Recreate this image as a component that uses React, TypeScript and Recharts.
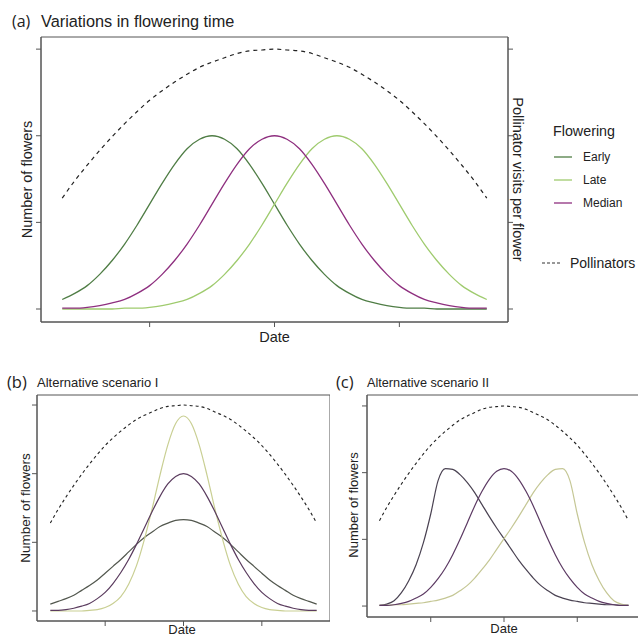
import React from 'react';
import { LineChart, Line, XAxis, YAxis, ReferenceArea, Legend } from 'recharts';

const FONT = '"Liberation Sans", Arial, sans-serif';
const INK = '#222';
const FRAME = '#555';

// date index along the season
const dates = [0,1,2,3,4,5,6,7,8,9,10,11,12,13,14,15,16,17,18,19,20,21,22,23,24,25,26,27,28,29,30,31,32,33,34];
const dateTicks = [7, 17, 27];
const valueTicks = [0, 1, 2, 3];

// pollinator visits per flower (same curve in every panel)
const pollinators = [1.28,1.48,1.66,1.83,1.99,2.14,2.28,2.41,2.52,2.62,2.71,2.79,2.85,2.90,2.95,2.98,2.99,3.00,2.99,2.98,2.95,2.90,2.85,2.79,2.71,2.62,2.52,2.41,2.28,2.14,1.99,1.83,1.66,1.48,1.28];

// (a) variations in flowering time
const aEarly = [0.11,0.18,0.27,0.40,0.56,0.75,0.97,1.21,1.45,1.67,1.85,1.96,2.00,1.96,1.85,1.67,1.45,1.21,0.97,0.75,0.56,0.40,0.27,0.18,0.11,0.07,0.04,0.02,0.01,0.01,0,0,0,0,0];
const aLate = [0,0,0,0,0,0.01,0.01,0.02,0.04,0.07,0.11,0.18,0.27,0.40,0.56,0.75,0.97,1.21,1.45,1.67,1.85,1.96,2.00,1.96,1.85,1.67,1.45,1.21,0.97,0.75,0.56,0.40,0.27,0.18,0.11];
const aMedian = [0.01,0.01,0.02,0.04,0.07,0.11,0.18,0.27,0.40,0.56,0.75,0.97,1.21,1.45,1.67,1.85,1.96,2.00,1.96,1.85,1.67,1.45,1.21,0.97,0.75,0.56,0.40,0.27,0.18,0.11,0.07,0.04,0.02,0.01,0.01];

// (b) alternative scenario I
const bEarly = [0.10,0.14,0.18,0.23,0.30,0.37,0.45,0.55,0.65,0.75,0.86,0.97,1.07,1.15,1.23,1.28,1.32,1.33,1.32,1.28,1.23,1.15,1.07,0.97,0.86,0.75,0.65,0.55,0.45,0.37,0.30,0.23,0.18,0.14,0.10];
const bLate = [0,0,0,0,0,0.01,0.02,0.05,0.11,0.21,0.39,0.66,1.04,1.49,1.98,2.42,2.73,2.84,2.73,2.42,1.98,1.49,1.04,0.66,0.39,0.21,0.11,0.05,0.02,0.01,0,0,0,0,0];
const bMedian = [0.01,0.01,0.02,0.04,0.07,0.11,0.18,0.27,0.40,0.56,0.75,0.97,1.21,1.45,1.67,1.85,1.96,2.00,1.96,1.85,1.67,1.45,1.21,0.97,0.75,0.56,0.40,0.27,0.18,0.11,0.07,0.04,0.02,0.01,0.01];

// (c) alternative scenario II
const cEarly = [0.01,0.03,0.08,0.20,0.38,0.62,0.95,1.38,1.88,2.06,2.05,1.97,1.85,1.70,1.52,1.34,1.17,1.01,0.85,0.69,0.55,0.42,0.31,0.23,0.16,0.12,0.09,0.07,0.05,0.04,0.03,0.02,0.02,0.01,0.01];
const cLate = [0.01,0.01,0.02,0.02,0.03,0.04,0.05,0.07,0.09,0.12,0.16,0.23,0.31,0.42,0.55,0.69,0.85,1.01,1.17,1.34,1.52,1.70,1.85,1.97,2.05,2.06,1.88,1.38,0.95,0.62,0.38,0.20,0.08,0.03,0.01];
const cMedian = [0.01,0.01,0.02,0.04,0.07,0.12,0.18,0.28,0.41,0.57,0.77,1.00,1.25,1.50,1.72,1.90,2.02,2.06,2.02,1.90,1.72,1.50,1.25,1.00,0.77,0.57,0.41,0.28,0.18,0.12,0.07,0.04,0.02,0.01,0.01];

const build = (early: number[], late: number[], median: number[]) =>
  dates.map((d, i) => ({ d, early: early[i], late: late[i], median: median[i], poll: pollinators[i] }));

const dataA = build(aEarly, aLate, aMedian);
const dataB = build(bEarly, bLate, bMedian);
const dataC = build(cEarly, cLate, cMedian);

const X_DOMAIN: [number, number] = [-1.7, 35.7];

const axisText = (text: string, x: number, y: number, size: number, rotate = 0) => () => (
  <text
    x={x}
    y={y}
    textAnchor="middle"
    dominantBaseline="central"
    fontFamily={FONT}
    fontSize={size}
    fill={INK}
    transform={rotate ? `rotate(${rotate}, ${x}, ${y})` : undefined}
  >
    {text}
  </text>
);

// ticks without labels: tick marks only
const NoLabel = () => <g />;

const LegendA = (props: any) => {
  const items = (props.payload || []) as any[];
  const flowering = items.filter((p) => p.value !== 'Pollinators');
  const poll = items.find((p) => p.value === 'Pollinators');
  return (
    <svg width={98} height={160} style={{ overflow: 'visible' }}>
      <text x={13} y={21} fontFamily={FONT} fontSize={14.3} fill={INK}>Flowering</text>
      {flowering.map((p, i) => (
        <g key={p.value}>
          <line x1={14} x2={32} y1={42 + i * 23} y2={42 + i * 23} stroke={p.color} strokeWidth={1.3} />
          <text x={43} y={42 + i * 23} dominantBaseline="central" fontFamily={FONT} fontSize={12} fill={INK}>{p.value}</text>
        </g>
      ))}
      {poll && (
        <g>
          <line x1={2} x2={22} y1={148} y2={148} stroke="#333" strokeWidth={1.2} strokeDasharray="3 2" />
          <text x={30} y={148} dominantBaseline="central" fontFamily={FONT} fontSize={14} fill={INK}>{poll.value}</text>
        </g>
      )}
    </svg>
  );
};

const tickStyle = { stroke: FRAME, strokeWidth: 1 };

function PanelA() {
  return (
    <LineChart width={638} height={345} data={dataA} margin={{ top: 37, right: 100, bottom: 0, left: 0 }}>
      <XAxis dataKey="d" type="number" domain={X_DOMAIN} ticks={dateTicks} allowDataOverflow tick={NoLabel}
        tickSize={5} axisLine={tickStyle} tickLine={tickStyle} height={23}
        label={{ content: axisText('Date', 274.5, 337, 14.5) }} />
      <YAxis yAxisId="left" type="number" domain={[-0.15, 3.14]} ticks={valueTicks} allowDataOverflow tick={NoLabel}
        tickSize={5} axisLine={tickStyle} tickLine={tickStyle} width={41}
        label={{ content: axisText('Number of flowers', 27, 179.5, 14.5, -90) }} />
      <YAxis yAxisId="right" orientation="right" type="number" domain={[-0.15, 3.14]} ticks={valueTicks} allowDataOverflow tick={NoLabel}
        tickSize={5} axisLine={tickStyle} tickLine={tickStyle} width={30}
        label={{ content: axisText('Pollinator visits per flower', 518, 179.5, 14.5, 90) }} />
      <ReferenceArea yAxisId="left" x1={X_DOMAIN[0]} x2={X_DOMAIN[1]} y1={-0.15} y2={3.14} fill="none" stroke={FRAME} strokeWidth={1} ifOverflow="visible" />
      <Line yAxisId="left" name="Early" dataKey="early" type="monotone" stroke="#4f7d45" strokeWidth={1.3} dot={false} activeDot={false} isAnimationActive={false} />
      <Line yAxisId="left" name="Late" dataKey="late" type="monotone" stroke="#9fcb6e" strokeWidth={1.3} dot={false} activeDot={false} isAnimationActive={false} />
      <Line yAxisId="left" name="Median" dataKey="median" type="monotone" stroke="#8e2f7f" strokeWidth={1.3} dot={false} activeDot={false} isAnimationActive={false} />
      <Line yAxisId="right" name="Pollinators" dataKey="poll" type="monotone" stroke="#222" strokeWidth={1.2} strokeDasharray="4 4" dot={false} activeDot={false} isAnimationActive={false} />
      <Legend layout="horizontal" verticalAlign="middle" align="center" content={LegendA}
        wrapperStyle={{ position: 'absolute', left: 540, top: 115, width: 98, height: 160 }} />
    </LineChart>
  );
}

function PanelSmall(props: {
  data: any[]; width: number; height: number; yDomain: [number, number]; xAxisH: number;
  dateX: number; dateY: number; dateSize: number; yLabX: number; yLabY: number; yLabSize: number;
  colors: [string, string, string];
}) {
  const { data, width, height, yDomain, xAxisH, colors } = props;
  return (
    <LineChart width={width} height={height} data={data} margin={{ top: 25, right: 0, bottom: 0, left: 0 }}>
      <XAxis dataKey="d" type="number" domain={X_DOMAIN} ticks={dateTicks} allowDataOverflow tick={NoLabel}
        tickSize={5} axisLine={tickStyle} tickLine={tickStyle} height={xAxisH}
        label={{ content: axisText('Date', props.dateX, props.dateY, props.dateSize) }} />
      <YAxis type="number" domain={yDomain} ticks={valueTicks} allowDataOverflow tick={NoLabel}
        tickSize={5} axisLine={tickStyle} tickLine={tickStyle} width={37}
        label={{ content: axisText('Number of flowers', props.yLabX, props.yLabY, props.yLabSize, -90) }} />
      <ReferenceArea x1={X_DOMAIN[0]} x2={X_DOMAIN[1]} y1={yDomain[0]} y2={yDomain[1]} fill="none" stroke={FRAME} strokeWidth={1} ifOverflow="visible" />
      <Line name="Early" dataKey="early" type="monotone" stroke={colors[0]} strokeWidth={1.2} dot={false} activeDot={false} isAnimationActive={false} />
      <Line name="Late" dataKey="late" type="monotone" stroke={colors[1]} strokeWidth={1.2} dot={false} activeDot={false} isAnimationActive={false} />
      <Line name="Median" dataKey="median" type="monotone" stroke={colors[2]} strokeWidth={1.2} dot={false} activeDot={false} isAnimationActive={false} />
      <Line name="Pollinators" dataKey="poll" type="monotone" stroke="#222" strokeWidth={1.1} strokeDasharray="3 3" dot={false} activeDot={false} isAnimationActive={false} />
    </LineChart>
  );
}

export default function App() {
  return (
    <div style={{ position: 'absolute', left: 0, top: 0, width: 638, height: 638, overflow: 'hidden', background: '#fff' }}>
      <div style={{ position: 'absolute', left: 0, top: 0 }}>
        <PanelA />
      </div>
      <div style={{ position: 'absolute', left: 0, top: 370 }}>
        <PanelSmall data={dataB} width={330} height={268} yDomain={[-0.146, 3.146]} xAxisH={17}
          dateX={182} dateY={259} dateSize={13} yLabX={25} yLabY={138} yLabSize={13.5}
          colors={['#52574e', '#c9cf93', '#5a3b5e']} />
      </div>
      <div style={{ position: 'absolute', left: 330, top: 370 }}>
        <PanelSmall data={dataC} width={311} height={268} yDomain={[-0.164, 3.164]} xAxisH={21}
          dateX={174} dateY={258} dateSize={13} yLabX={23} yLabY={135} yLabSize={13}
          colors={['#4a4252', '#c5c795', '#5c3a63']} />
      </div>
      <svg width={638} height={638} style={{ position: 'absolute', left: 0, top: 0, pointerEvents: 'none' }}>
        <text x={12} y={26.5} fontFamily={'"Open Sans", sans-serif'} fontSize={16} fill={INK}>(a)</text>
        <text x={41} y={26.5} fontFamily={FONT} fontSize={16.3} fill={INK}>Variations in flowering time</text>
        <text x={7} y={388} fontFamily={'"Open Sans", sans-serif'} fontSize={16.5} fill={INK}>(b)</text>
        <text x={37} y={387} fontFamily={FONT} fontSize={13} fill={INK}>Alternative scenario I</text>
        <text x={336} y={388} fontFamily={'"Open Sans", sans-serif'} fontSize={16.5} fill={INK}>(c)</text>
        <text x={367} y={387} fontFamily={FONT} fontSize={12.7} fill={INK}>Alternative scenario II</text>
      </svg>
    </div>
  );
}
